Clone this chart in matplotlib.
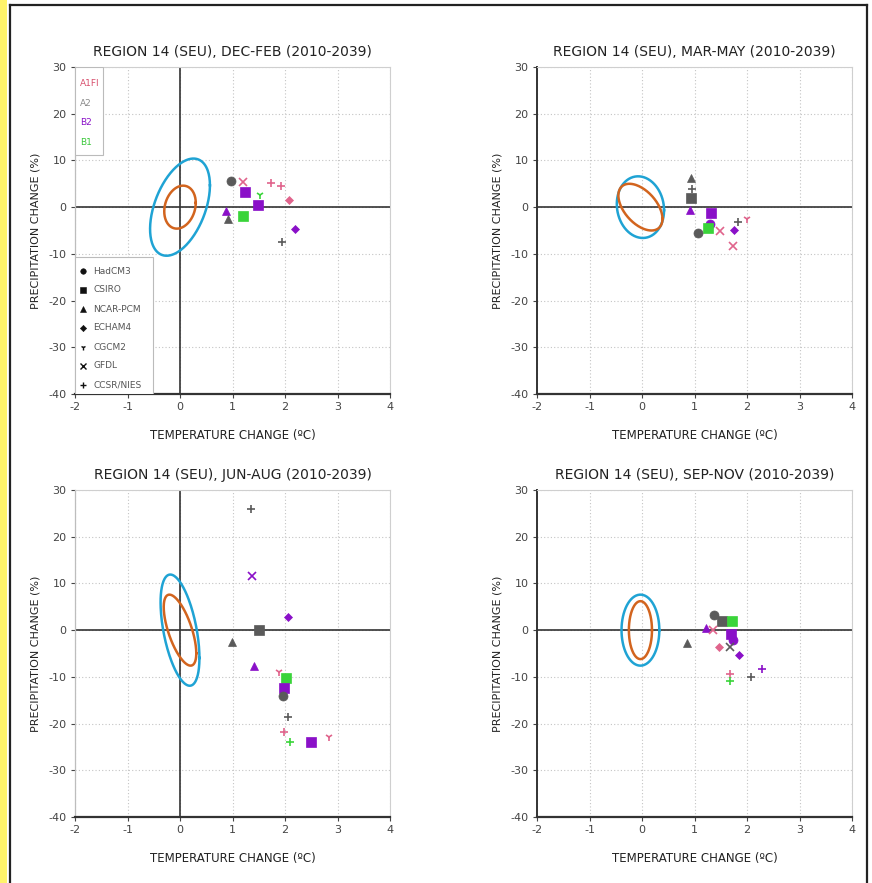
import numpy as np
import matplotlib
matplotlib.use("Agg")
import matplotlib.pyplot as plt
from matplotlib.lines import Line2D

plt.rcParams['font.family'] = ['DejaVu Sans']

# ---- data -------------------------------------------------------------
seasons = ["DEC-FEB", "MAR-MAY", "JUN-AUG", "SEP-NOV"]
period = "2010-2039"
region = "REGION 14 (SEU)"

scenarios = ["A1FI", "A2", "B2", "B1"]
scenario_colors = {"A1FI": "#e0648c", "A2": "#5a5a5a", "B2": "#8a10c8", "B1": "#3ad43a"}
scenario_text_colors = {"A1FI": "#d8506e", "A2": "#8a8a8a", "B2": "#8a10c8", "B1": "#3ac83a"}

models = ["HadCM3", "CSIRO", "NCAR-PCM", "ECHAM4", "CGCM2", "GFDL", "CCSR/NIES"]
model_markers = {"HadCM3": "o", "CSIRO": "s", "NCAR-PCM": "^", "ECHAM4": "D",
                 "CGCM2": "1", "GFDL": "x", "CCSR/NIES": "+"}

# temperature change (degC), precipitation change (%), model, scenario
djf_temp = [0.97, 1.20, 1.24, 1.52, 1.48, 1.74, 1.93, 2.08, 2.19, 0.87, 0.91, 1.20, 1.95]
djf_prec = [5.6, 5.3, 3.3, 2.6, 0.5, 5.1, 4.6, 1.6, -4.7, -0.9, -2.6, -1.9, -7.5]
djf_model = ["HadCM3", "GFDL", "CSIRO", "CGCM2", "CSIRO", "CCSR/NIES", "CCSR/NIES",
             "ECHAM4", "ECHAM4", "NCAR-PCM", "NCAR-PCM", "CSIRO", "CCSR/NIES"]
djf_scen = ["A2", "A1FI", "B2", "B1", "B2", "A1FI", "A1FI", "A1FI", "B2", "B2", "A2", "B1", "A2"]

mam_temp = [0.93, 0.95, 0.94, 0.92, 1.32, 1.30, 1.26, 1.06, 1.49, 1.75, 1.83, 2.00, 1.73]
mam_prec = [6.2, 3.8, 1.9, -0.7, -1.2, -3.6, -4.5, -5.5, -5.1, -5.0, -3.2, -2.5, -8.3]
mam_model = ["NCAR-PCM", "CCSR/NIES", "CSIRO", "NCAR-PCM", "CSIRO", "HadCM3", "CSIRO",
             "HadCM3", "GFDL", "ECHAM4", "CCSR/NIES", "CGCM2", "GFDL"]
mam_scen = ["A2", "A2", "A2", "B2", "B2", "B2", "B1", "A2", "A1FI", "B2", "A2", "A1FI", "A1FI"]

jja_temp = [1.35, 1.37, 2.06, 1.50, 0.99, 1.40, 1.88, 2.02, 1.99, 1.96, 2.06, 1.99, 2.09, 2.49, 2.84]
jja_prec = [25.9, 11.6, 2.8, 0.1, -2.6, -7.6, -9.0, -10.3, -12.4, -14.2, -18.5, -21.8, -24.0, -24.0, -22.8]
jja_model = ["CCSR/NIES", "GFDL", "ECHAM4", "CSIRO", "NCAR-PCM", "NCAR-PCM", "CGCM2", "CSIRO",
             "CSIRO", "HadCM3", "CCSR/NIES", "CCSR/NIES", "CCSR/NIES", "CSIRO", "CGCM2"]
jja_scen = ["A2", "B2", "B2", "A2", "A2", "B2", "A1FI", "B1", "B2", "A2", "A2", "A1FI", "B1", "B2", "A1FI"]

son_temp = [1.37, 1.53, 1.71, 1.21, 1.36, 1.69, 1.74, 0.85, 1.47, 1.67, 1.85, 2.28, 1.67, 1.67, 2.08]
son_prec = [3.2, 1.9, 1.9, 0.5, 0.0, -0.9, -2.1, -2.8, -3.7, -3.7, -5.3, -8.4, -9.4, -10.9, -10.1]
son_model = ["HadCM3", "CSIRO", "CSIRO", "NCAR-PCM", "GFDL", "CSIRO", "HadCM3", "NCAR-PCM",
             "ECHAM4", "GFDL", "ECHAM4", "CCSR/NIES", "CCSR/NIES", "CCSR/NIES", "CCSR/NIES"]
son_scen = ["A2", "A2", "B1", "B2", "A1FI", "B2", "B2", "A2", "A1FI", "A2", "B2", "B2", "A1FI", "B1", "A2"]

# natural-variability ellipses: (centre_x, half-width temp, half-height precip, correlation)
outer_ellipse = [(0.0, 0.57, 10.4, 0.45), (-0.03, 0.45, 6.6, -0.10),
                 (0.0, 0.37, 11.9, -0.50), (-0.03, 0.36, 7.6, 0.0)]
inner_ellipse = [(0.0, 0.30, 4.6, 0.20), (-0.03, 0.42, 5.0, -0.50),
                 (0.0, 0.31, 7.6, -0.65), (-0.03, 0.22, 6.2, 0.0)]

xticks = [-2, -1, 0, 1, 2, 3, 4]
yticks = [30, 20, 10, 0, -10, -20, -30, -40]

season_data = [
    (djf_temp, djf_prec, djf_model, djf_scen),
    (mam_temp, mam_prec, mam_model, mam_scen),
    (jja_temp, jja_prec, jja_model, jja_scen),
    (son_temp, son_prec, son_model, son_scen),
]

# ---- figure -----------------------------------------------------------
W, H = 872, 883
fig = plt.figure(figsize=(W / 100, H / 100), dpi=100)

# page decoration: yellow margin strip and black frame
fig.patches.append(plt.Rectangle((0, 0), 7 / W, 1, transform=fig.transFigure,
                                 facecolor="#fff36a", edgecolor="none"))
for xs, ys in [((10 / W, 10 / W), (0, 1 - 5 / H)),
               ((10 / W, 867 / W), (1 - 5 / H, 1 - 5 / H)),
               ((867 / W, 867 / W), (0, 1 - 5 / H))]:
    fig.add_artist(Line2D(xs, ys, transform=fig.transFigure, color="#222222", lw=1.6))

panel_px = [(75, 67), (537, 67), (75, 490), (537, 490)]  # left, top in pixels
pw, ph = 315, 327


def ellipse_xy(cx, sx, sy, rho, n=200):
    t = np.linspace(0, 2 * np.pi, n)
    x = cx + sx * np.cos(t)
    y = sy * (rho * np.cos(t) + np.sqrt(1 - rho ** 2) * np.sin(t))
    return x, y


tick_color = "#444444"
for i, (season, (tx, pr, md, sc)) in enumerate(zip(seasons, season_data)):
    lx, ty = panel_px[i]
    ax = fig.add_axes([lx / W, 1 - (ty + ph) / H, pw / W, ph / H])
    ax.set_xlim(-2, 4)
    ax.set_ylim(-40, 30)
    ax.set_xticks(xticks)
    ax.set_yticks(yticks)
    ax.set_xticklabels([str(v) for v in xticks])
    ax.set_yticklabels([str(v) for v in yticks])
    ax.tick_params(labelsize=8, colors=tick_color, length=3, width=0.8, pad=3)
    ax.grid(True, linestyle=(0, (1, 2)), color="#c4c4c4", linewidth=0.8)
    for side in ("top", "right"):
        ax.spines[side].set_color("#cfcfcf")
        ax.spines[side].set_linewidth(0.8)
    ax.spines["bottom"].set_color("#333333")
    ax.spines["bottom"].set_linewidth(1.6)
    ax.spines["left"].set_color("#333333" if i % 2 else "#bdbdbd")
    ax.spines["left"].set_linewidth(1.4 if i % 2 else 0.9)

    ax.axhline(0, color="#333333", lw=1.2, zorder=2)
    if i % 2 == 0:
        ax.axvline(0, color="#333333", lw=1.2, zorder=2)

    ex, ey = ellipse_xy(*outer_ellipse[i])
    ax.plot(ex, ey, color="#1fa3d4", lw=1.8, zorder=3)
    ex, ey = ellipse_xy(*inner_ellipse[i])
    ax.plot(ex, ey, color="#d2641e", lw=1.8, zorder=3)

    for x, y, m, s in zip(tx, pr, md, sc):
        mk = model_markers[m]
        col = scenario_colors[s]
        size = 6.5 if mk in ("o", "s") else 5.5
        if mk == "D":
            size = 4.5
        mew = 1.2 if mk in ("x", "+", "1") else 0.5
        ax.plot([x], [y], marker=mk, color=col, markersize=size, mew=mew,
                linestyle="none", zorder=4)

    ax.set_title(f"{region}, {season} ({period})", fontsize=10, color="#222222", pad=8)
    ax.set_xlabel("TEMPERATURE CHANGE (ºC)", fontsize=8.5, color="#222222", labelpad=12)
    ax.set_ylabel("PRECIPITATION CHANGE (%)", fontsize=8, color="#222222", labelpad=6)

    if i == 0:
        # scenario key
        ax.add_patch(plt.Rectangle((0, 1 - 88 / ph), 28 / pw, 88 / ph, transform=ax.transAxes,
                                   facecolor="white", edgecolor="#bbbbbb", lw=0.8, zorder=5))
        for k, s in enumerate(scenarios):
            ax.text(5 / pw, 1 - (17 + k * 19.5) / ph, s, transform=ax.transAxes,
                    fontsize=6.5, color=scenario_text_colors[s], va="center", zorder=6)
        # model key
        ax.add_patch(plt.Rectangle((0, 0), 78 / pw, 137 / ph, transform=ax.transAxes,
                                   facecolor="white", edgecolor="#bbbbbb", lw=0.8, zorder=5))
        for k, m in enumerate(models):
            yk = (123 - k * 19) / ph
            mk = model_markers[m]
            ax.plot([8 / pw], [yk], marker=mk, color="#111111",
                    markersize=4 if mk != "D" else 3.2, mew=1.0 if mk in ("x", "+", "1") else 0.4,
                    transform=ax.transAxes, zorder=6, clip_on=False)
            ax.text(18 / pw, yk, m, transform=ax.transAxes, fontsize=6.5,
                    color="#555555", va="center", zorder=6)

fig.savefig("out.png", dpi=100, facecolor="white")
